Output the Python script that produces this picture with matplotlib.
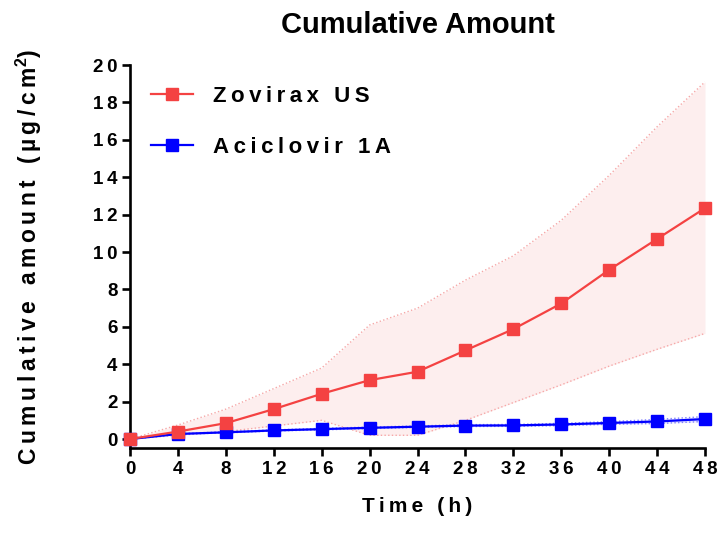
import matplotlib
matplotlib.use('Agg')
import matplotlib.pyplot as plt
import numpy as np

# data
time_h = [0, 4, 8, 12, 16, 20, 24, 28, 32, 36, 40, 44, 48]
zovirax = [0, 0.40, 0.85, 1.60, 2.42, 3.15, 3.60, 4.74, 5.88, 7.25, 9.05, 10.7, 12.35]
zovirax_hi = [0, 0.75, 1.6, 2.7, 3.8, 6.1, 7.0, 8.5, 9.8, 11.7, 14.1, 16.7, 19.1]
zovirax_lo = [0, 0.2, 0.4, 0.7, 1.0, 0.2, 0.2, 1.0, 1.95, 2.9, 3.9, 4.8, 5.65]
aciclovir = [0, 0.27, 0.36, 0.46, 0.53, 0.60, 0.66, 0.72, 0.73, 0.78, 0.86, 0.94, 1.07]
aciclovir_hi = [0, 0.29, 0.39, 0.49, 0.57, 0.64, 0.70, 0.77, 0.78, 0.84, 0.93, 1.05, 1.20]
aciclovir_lo = [0, 0.25, 0.33, 0.43, 0.49, 0.56, 0.62, 0.67, 0.68, 0.72, 0.79, 0.83, 0.94]

x_ticks = list(range(0, 49, 4))
y_ticks = list(range(0, 21, 2))

red = '#F44242'
blue = '#0000FF'
SP = '\u2009'


def spaced(s):
    return SP.join(s)


plt.rcParams['font.family'] = ['Liberation Sans', 'DejaVu Sans']
plt.rcParams['font.weight'] = 'bold'
plt.rcParams['mathtext.fontset'] = 'custom'
plt.rcParams['mathtext.bf'] = 'Liberation Sans:bold'
plt.rcParams['mathtext.rm'] = 'Liberation Sans:bold'

fig = plt.figure(figsize=(7.2, 5.42), dpi=100)
ax = fig.add_axes([0.1806, 0.1734, 0.7986, 0.7066])

# shaded bands
ax.fill_between(time_h, zovirax_lo, zovirax_hi, color='#FDEEEE', lw=0, zorder=1)
ax.plot(time_h, zovirax_hi, ls=':', color='#F6A8A8', lw=1, zorder=2)
ax.plot(time_h, zovirax_lo, ls=':', color='#F6A8A8', lw=1, zorder=2)
ax.fill_between(time_h, aciclovir_lo, aciclovir_hi, color='#E6E6FF', lw=0, zorder=1)
ax.plot(time_h, aciclovir_hi, ls=':', color='#8080FF', lw=1, zorder=2)
ax.plot(time_h, aciclovir_lo, ls=':', color='#8080FF', lw=1, zorder=2)

ax.plot(time_h, aciclovir, '-s', color=blue, lw=1.6, ms=8.5, label=spaced('Aciclovir 1A'), zorder=4, clip_on=False)
ax.plot(time_h, zovirax, '-s', color=red, lw=1.6, ms=8.5, label=spaced('Zovirax US'), zorder=5, clip_on=False)

ax.set_xlim(0, 48)
ax.set_ylim(-0.48, 20)
ax.set_xticks(x_ticks)
ax.set_xticklabels([spaced(str(t)) for t in x_ticks])
ax.set_yticks(y_ticks)
ax.set_yticklabels([spaced(str(t)) for t in y_ticks])

for side in ['top', 'right']:
    ax.spines[side].set_visible(False)
for side in ['left', 'bottom']:
    ax.spines[side].set_linewidth(1.9)
ax.tick_params(width=1.9, length=6, labelsize=13.5, direction='out')
ax.tick_params(axis='x', pad=3)
ax.tick_params(axis='y', pad=3)

ax.set_xlabel(spaced('Time (h)'), fontsize=15, fontweight='bold', labelpad=14)
ax.set_ylabel(spaced('Cumulative amount (µg/cm') + r'$^{\mathbf{2}}$' + spaced(')'),
              fontsize=16.5, fontweight='bold')
ax.yaxis.set_label_coords(-0.15, 0.5)
ax.set_title('Cumulative Amount', fontsize=21, fontweight='bold', pad=23)

handles, labels = ax.get_legend_handles_labels()
ax.legend(handles[::-1], labels[::-1], loc='upper left', bbox_to_anchor=(0.0, 1.0),
          frameon=False, fontsize=16, handlelength=1.9, labelspacing=1.35,
          handletextpad=0.9, borderaxespad=0.55)

fig.savefig('out.png', dpi=100)
